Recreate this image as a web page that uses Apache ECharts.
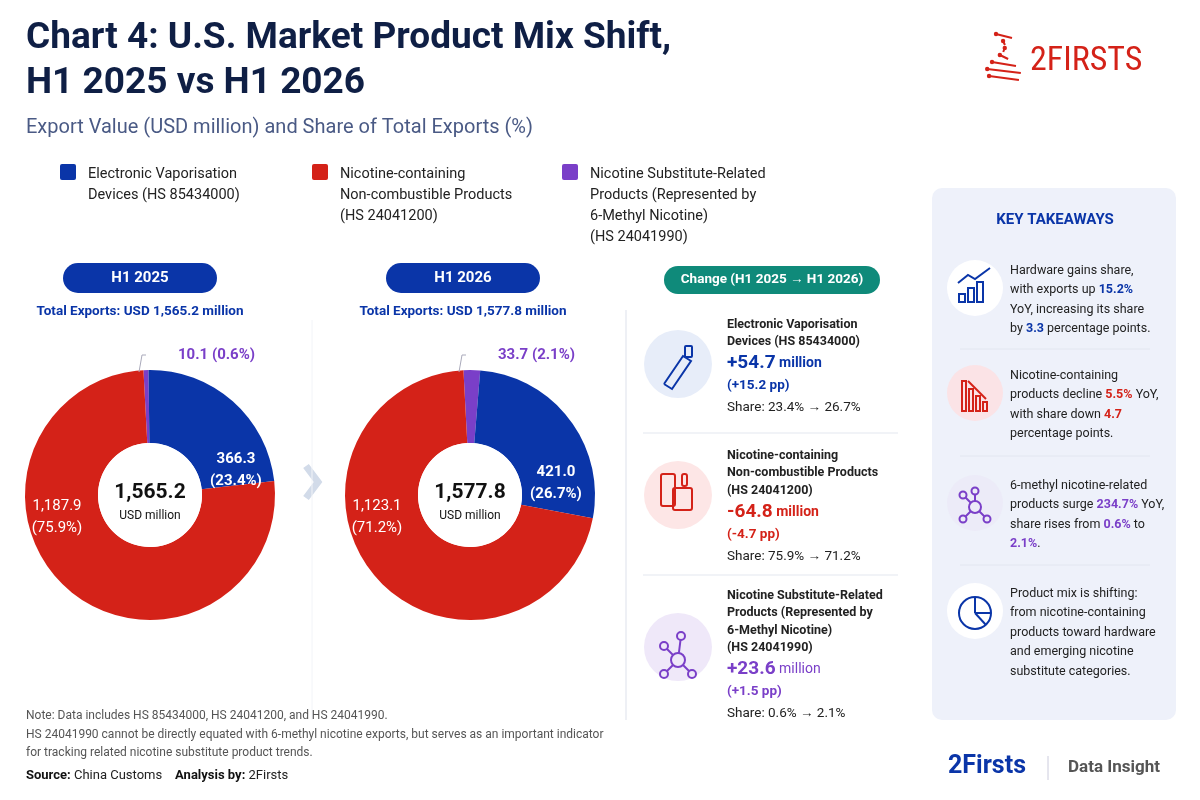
<!DOCTYPE html>
<html><head><meta charset="utf-8">
<script src="https://cdn.jsdelivr.net/npm/echarts@6/dist/echarts.min.js"></script>
<style>html,body{margin:0;padding:0;background:#fff}#c{width:1200px;height:800px}</style>
</head><body><div id="c"></div>
<script>
const categories = ['Electronic Vaporisation Devices (HS 85434000)','Nicotine-containing Non-combustible Products (HS 24041200)','Nicotine Substitute-Related Products (HS 24041990)'];
const values2025 = [366.3, 1187.9, 10.1];
const values2026 = [421.0, 1123.1, 33.7];
const share2025 = [23.4, 75.9, 0.6];
const share2026 = [26.7, 71.2, 2.1];
const totals = [1565.2, 1577.8];
const periods = ['H1 2025','H1 2026'];
const BLUE='#0a35a8', RED='#d42218', PURPLE='#7a3fc8', F='Roboto, "Noto Sans", sans-serif';
const fmt = v => v.toLocaleString('en-US',{minimumFractionDigits:1,maximumFractionDigits:1});

const chart = echarts.init(document.getElementById('c'));
function pieSeries(cx, vals){
  return {type:'pie', center:[cx,495], radius:[52,125], startAngle:93, clockwise:true, silent:true, z:1,
    label:{show:false}, labelLine:{show:false},
    data:[
      {name:categories[2], value:vals[2], itemStyle:{color:PURPLE}},
      {name:categories[0], value:vals[0], itemStyle:{color:BLUE}},
      {name:categories[1], value:vals[1], itemStyle:{color:RED}}
    ]};
}
const g = [];
function T(x,y,text,o){ g.push({type:'text', x, y, z:100, style:Object.assign({text, fill:'#222', font:'14px '+F}, o||{})}); }
function R(x,y,w,h,fill,r,o){ g.push({type:'rect', z:50, shape:{x,y,width:w,height:h,r:r||0}, style:Object.assign({fill},o||{})}); }
function C(cx,cy,r,fill,o,z){ g.push({type:'circle', z:z||50, shape:{cx,cy,r}, style:Object.assign({fill},o||{})}); }
function L(x1,y1,x2,y2,stroke,w){ g.push({type:'line', z:60, shape:{x1,y1,x2,y2}, style:{stroke, lineWidth:w||1}}); }

// Title
T(26,20,'Chart 4: U.S. Market Product Mix Shift,',{font:'bold 37px '+F, fill:'#0f1f45'});
T(26,65,'H1 2025 vs H1 2026',{font:'bold 37px '+F, fill:'#0f1f45'});
T(26,118,'Export Value (USD million) and Share of Total Exports (%)',{font:'20px '+F, fill:'#4a5a85'});
// Logo
for(let i=0;i<7;i++){ const y=34+i*7; const a=Math.sin(i*0.9)*9; L(996+a, y, 1012-a, y+4, RED, 2); C(996+a,y,2.2,RED); }
T(1030,44,'2FIRSTS',{font:'34px "Roboto Condensed", Roboto, sans-serif', fill:RED});
// Legend
const lx=[60,312,562], lc=[BLUE,RED,PURPLE];
const legTxt=['Electronic Vaporisation\nDevices (HS 85434000)','Nicotine-containing\nNon-combustible Products\n(HS 24041200)','Nicotine Substitute-Related\nProducts (Represented by\n6-Methyl Nicotine)\n(HS 24041990)'];
lx.forEach((x,i)=>{ R(x,164,16,16,lc[i],2); T(x+28,164,legTxt[i],{font:'14.5px '+F, lineHeight:21, fill:'#222'}); });
// Pills
const pcx=[140,463];
pcx.forEach((cx,i)=>{ R(cx-77,263,154,30,BLUE,15);
  T(cx,278,periods[i],{font:'bold 15px '+F, fill:'#fff', align:'center', verticalAlign:'middle'});
  T(cx,312,'Total Exports: USD '+fmt(totals[i])+' million',{font:'bold 13.5px '+F, fill:BLUE, align:'center', verticalAlign:'middle'}); });
// donut labels
const dcx=[150,470];
[[values2025,share2025],[values2026,share2026]].forEach((d,i)=>{
  C(dcx[i],495,52,'#fff');
  T(dcx[i],493,fmt(totals[i]),{font:'bold 21px '+F, fill:'#111', align:'center', verticalAlign:'middle'});
  T(dcx[i],516,'USD million',{font:'12px '+F, fill:'#111', align:'center', verticalAlign:'middle'});
  T(dcx[i]+86,i?483:470,fmt(d[0][0])+'\n('+d[1][0].toFixed(1)+'%)',{font:'bold 15px '+F, fill:'#fff', align:'center', verticalAlign:'middle', lineHeight:22});
  T(dcx[i]-93,517,fmt(d[0][1])+'\n('+d[1][1].toFixed(1)+'%)',{font:'15px '+F, fill:'#fff', align:'center', verticalAlign:'middle', lineHeight:22});
  g.push({type:'polyline', z:60, shape:{points:[[dcx[i]-11,372],[dcx[i]-8,355],[dcx[i]-4,355]]}, style:{stroke:'#aab',lineWidth:1,fill:null}});
  T(dcx[i]+28,355,fmt(d[0][2])+' ('+d[1][2].toFixed(1)+'%)',{font:'bold 15px '+F, fill:PURPLE, align:'left', verticalAlign:'middle'});
});
g.push({type:'polyline', z:60, shape:{points:[[306,466],[318,482],[306,498]]}, style:{stroke:'#d2dbe9', lineWidth:7, fill:null}});
L(312,320,312,720,'#f2f4f8',1);
L(626,310,626,720,'#eef0f5',2);
// Change panel
R(664,266,216,28,'#0f8a7a',14);
T(772,280,'Change (H1 2025 → H1 2026)',{font:'bold 13.5px '+F, fill:'#fff', align:'center', verticalAlign:'middle'});
const chY=[316,447,587], icF=['#e7edf9','#fde6e6','#efe8f9'];
const chName=['Electronic Vaporisation\nDevices (HS 85434000)','Nicotine-containing\nNon-combustible Products\n(HS 24041200)','Nicotine Substitute-Related\nProducts (Represented by\n6-Methyl Nicotine)\n(HS 24041990)'];
const nl=[2,3,4];
[0,1,2].forEach(i=>{
  const y=chY[i], idx=i;
  const dv=values2026[idx]-values2025[idx];
  const pp=[15.2,-4.7,1.5][i];
  C(678,y+48+(i==2?12:0),34,icF[i],{},40);
  T(727,y,chName[i],{font:'bold 12.5px '+F, fill:'#222', lineHeight:17.5});
  const yy=y+nl[i]*17.5+3;
  T(727,yy,'{a|'+(dv>0?'+':'')+dv.toFixed(1)+'}{b| million}',{rich:{a:{font:'bold 19px '+F, fill:lc[i]},b:{font:(i==2?'':'bold ')+'14px '+F, fill:lc[i]}}});
  T(727,yy+25,'('+(pp>0?'+':'')+pp.toFixed(1)+' pp)',{font:'bold 13.5px '+F, fill:lc[i]});
  T(727,yy+47,'Share: '+share2025[idx]+'% → '+share2026[idx]+'%',{font:'13.5px '+F, fill:'#222'});
});
L(643,433,898,433,'#e3e7ef',1); L(643,575,898,575,'#e3e7ef',1);
// icons in change panel
g.push({type:'polyline', z:60, shape:{points:[[664,384],[683,356],[691,361],[672,389],[664,384]]}, style:{stroke:BLUE,lineWidth:2,fill:null}});
R(685,346,7,11,null,1,{stroke:BLUE,lineWidth:2});
R(661,474,14,32,null,2,{stroke:RED,lineWidth:2}); R(673,488,19,22,null,2,{stroke:RED,lineWidth:2}); R(682,474,5,12,null,2,{stroke:RED,lineWidth:2});
const pts=[[0,0],[-14,-14],[3,-24],[-14,14],[14,14]];
pts.forEach(([dx,dy],k)=>{ if(k) L(678,660,678+dx,660+dy,PURPLE,2); });
pts.forEach(([dx,dy])=>C(678+dx,660+dy,(dx||dy)?4:7,'#efe8f9',{stroke:PURPLE,lineWidth:2},70));
// Key takeaways
R(932,188,244,532,'#eef1fa',10);
g[g.length-1].z=10;
T(1055,220,'KEY TAKEAWAYS',{font:'bold 15px '+F, fill:BLUE, align:'center', verticalAlign:'middle'});
const kY=[261,366,476,584], kF=['#fff','#fbe3e6','#ecebf8','#fff'];
const rt={n:{font:'12.5px '+F, fill:'#222'},b:{font:'bold 12.5px '+F, fill:BLUE},r:{font:'bold 12.5px '+F, fill:RED},p:{font:'bold 12.5px '+F, fill:PURPLE}};
const kT=['{n|Hardware gains share,}\n{n|with exports up }{b|15.2%}\n{n|YoY, increasing its share}\n{n|by }{b|3.3}{n| percentage points.}',
'{n|Nicotine-containing}\n{n|products decline }{r|5.5%}{n| YoY,}\n{n|with share down }{r|4.7}\n{n|percentage points.}',
'{n|6-methyl nicotine-related}\n{n|products surge }{p|234.7%}{n| YoY,}\n{n|share rises from }{p|0.6%}{n| to}\n{p|2.1%}{n|.}',
'{n|Product mix is shifting:}\n{n|from nicotine-containing}\n{n|products toward hardware}\n{n|and emerging nicotine}\n{n|substitute categories.}'];
kY.forEach((y,i)=>{ C(975,y+27,28,kF[i],{},40); T(1010,y,kT[i],{rich:rt, lineHeight:19.5}); });
L(960,349,1150,349,'#e2e6f0'); L(960,456,1150,456,'#e2e6f0'); L(960,565,1150,565,'#e2e6f0');
// takeaway icons
[[959,294,6],[968,288,12],[977,282,18]].forEach(([x,y,h])=>R(x,y,6,h+2,null,0,{stroke:BLUE,lineWidth:2}));
g.push({type:'polyline', z:60, shape:{points:[[958,283],[968,275],[975,279],[990,268]]}, style:{stroke:BLUE,lineWidth:2,fill:null}});
[[962,381,30],[969,389,22],[976,396,15],[983,402,9]].forEach(([x,y,h])=>R(x,y,4,h,null,0,{stroke:RED,lineWidth:2}));
L(968,381,986,399,RED,2);
const p2=[[0,0],[-12,-12],[0,-16],[-12,12],[12,12]];
p2.forEach(([dx,dy],k)=>{ if(k) L(975,507,975+dx,507+dy,PURPLE,2); });
p2.forEach(([dx,dy])=>C(975+dx,507+dy,(dx||dy)?3.5:6,'#ecebf8',{stroke:PURPLE,lineWidth:2},70));
C(975,613,16,null,{stroke:BLUE,lineWidth:2}); L(975,613,975,597,BLUE,2); L(975,613,991,613,BLUE,2); L(975,613,986,625,BLUE,2);
// footer
T(26,707,'Note: Data includes HS 85434000, HS 24041200, and HS 24041990.\nHS 24041990 cannot be directly equated with 6-methyl nicotine exports, but serves as an important indicator\nfor tracking related nicotine substitute product trends.',{font:'12px '+F, fill:'#555', lineHeight:18.5});
T(26,769,'{b|Source:}{n| China Customs    }{b|Analysis by:}{n| 2Firsts}',{rich:{b:{font:'bold 13px '+F, fill:'#111'},n:{font:'13px '+F, fill:'#222'}}});
T(948,754,'2Firsts',{font:'bold 25px '+F, fill:BLUE});
L(1048,756,1048,780,'#ccd',1);
T(1068,759,'Data Insight',{font:'bold 17px '+F, fill:'#555'});

chart.setOption({backgroundColor:'#fff', animation:false,
  series:[pieSeries(150,values2025), pieSeries(470,values2026)],
  graphic:{elements:g}});
</script></body></html>
